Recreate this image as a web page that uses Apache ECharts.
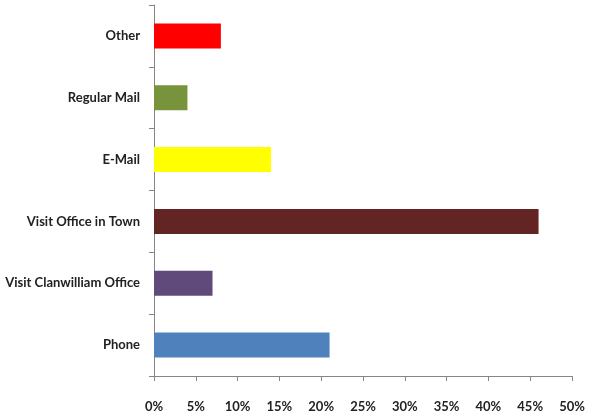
<!DOCTYPE html>
<html><head><meta charset="utf-8">
<script src="https://cdn.jsdelivr.net/npm/echarts@6/dist/echarts.min.js"></script>
<style>html,body{margin:0;padding:0;background:#fff}#c{width:589px;height:416px}</style>
</head><body><div id="c"></div>
<script>
const categories = ["Phone", "Visit Clanwilliam Office", "Visit Office in Town", "E-Mail", "Regular Mail", "Other"];
const values = [21, 7, 46, 14, 4, 8];
const colors = ["#4F81BD", "#604A7B", "#632523", "#FFFF00", "#77933C", "#FF0000"];
const tickValues = [0, 5, 10, 15, 20, 25, 30, 35, 40, 45, 50];

const chart = echarts.init(document.getElementById('c'));
const font = 'Lato, "Open Sans", sans-serif';
chart.setOption({
  animation: false,
  grid: {left: 154, right: 17, top: 5, bottom: 40, containLabel: false},
  xAxis: {
    type: 'value', min: tickValues[0], max: tickValues[tickValues.length-1], interval: 5,
    splitLine: {show: false},
    axisLine: {show: true, lineStyle: {color: '#868686', width: 1}},
    axisTick: {show: true, length: 5, lineStyle: {color: '#868686'}},
    axisLabel: {formatter: v => v + '%', margin: 24, color: '#222', fontSize: 13, fontWeight: 'bold', fontFamily: font}
  },
  yAxis: {
    type: 'category', data: categories,
    axisLine: {show: true, lineStyle: {color: '#868686', width: 1}},
    axisTick: {show: true, length: 5, lineStyle: {color: '#868686'}},
    axisLabel: {margin: 14, color: '#222', fontSize: 13, fontWeight: 'bold', fontFamily: font}
  },
  series: [{
    type: 'bar',
    data: values.map((v, i) => ({value: v, itemStyle: {color: colors[i]}})),
    barWidth: 25
  }]
});
</script></body></html>
